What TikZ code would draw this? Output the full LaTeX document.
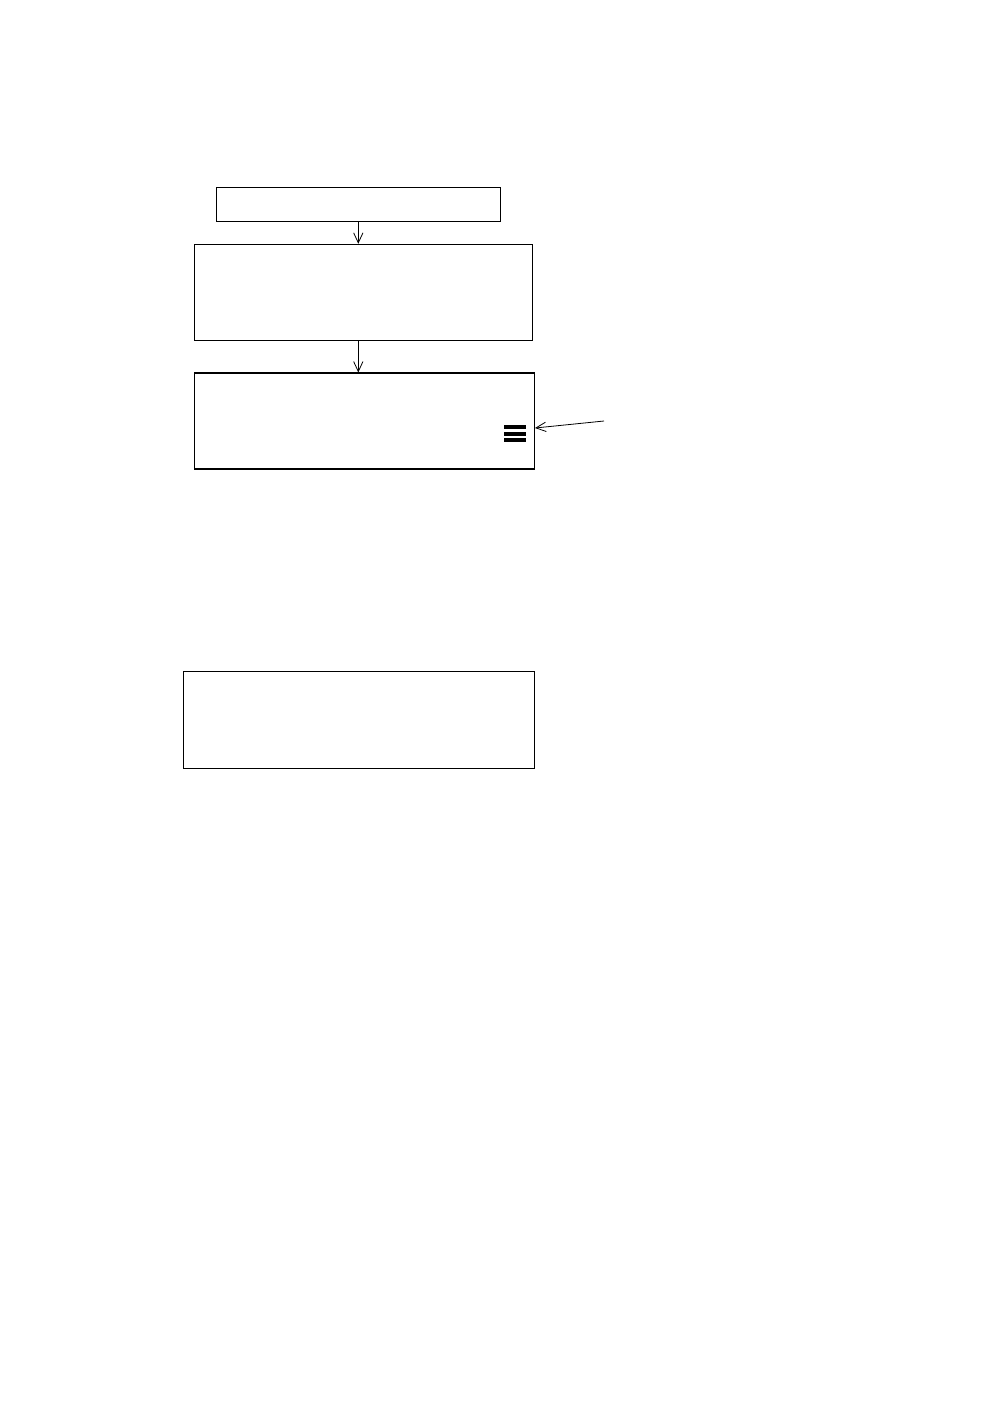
\documentclass[tikz,border=0pt]{standalone}
\usetikzlibrary{arrows.meta}

\begin{document}
\begin{tikzpicture}[x=0.75pt,y=-0.75pt,
  block/.style={rectangle,draw,line width=0.8pt,inner sep=0pt},
  link/.style={line width=0.6pt,-{Straight Barb[length=7.5pt,width=7pt]}}]
\def\px{0.75pt}
\useasboundingbox (0,0) rectangle (998,1418);
\path
(358.3,204.3) node [block,minimum width={284.5*\px},minimum height={34*\px}] (start) {}
(363.3,292.3) node [block,minimum width={338*\px},minimum height={96*\px}] (step) {}
(364.3,421) node [block,minimum width={340*\px},minimum height={96*\px}] (menu) {}
(359,719.8) node [block,minimum width={351.4*\px},minimum height={97*\px}] (result) {}
;
\coordinate (hint) at (604,421);
\coordinate (hintend) at (535,428);
  % three bars of the menu icon
\foreach \y in {425,431.6,438.3}
  \fill (504,\y) rectangle (526,\y+4);
\draw[link] (start.south) -- (start.south |- step.north);
\draw[link] (start.south |- step.south) -- (start.south |- menu.north);
\draw[link] (hint) -- (hintend);
\end{tikzpicture}
\end{document}
